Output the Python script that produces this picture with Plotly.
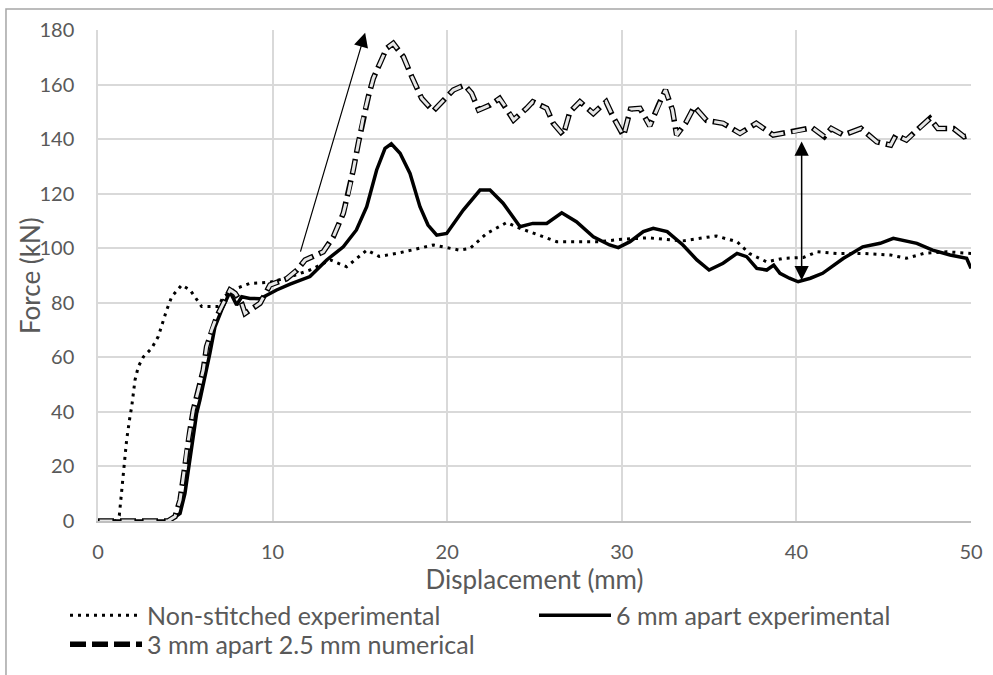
import plotly.graph_objects as go

# ---- data ----
ns_x = [0, 1.0, 1.22, 1.45, 1.64, 1.83, 1.93, 2.12, 2.31, 2.6, 3.07, 3.45, 3.65, 3.93, 4.22, 4.79, 5.27, 5.94,
        6.89, 7.18, 7.94, 8.7, 9.85, 11.0, 12.14, 13.3, 14.24, 15.4, 16.1, 17.1, 18.1, 19.2, 20.7, 21.3, 22.26,
        23.4, 24.17, 25.3, 26.27, 27.6, 28.75, 30.0, 31.5, 33.5, 35.4, 36.6, 37.3, 38.3, 39.25, 40.4, 41.2,
        42.3, 43.8, 45.4, 46.3, 47.3, 48.6, 50.0]
ns_y = [0, 0, 2, 17.5, 29.7, 38.2, 41.9, 51.7, 56.6, 60.2, 63.3, 67.6, 71.8, 77.3, 82.2, 86.5, 84.7, 78.6,
        78.6, 82.2, 85.3, 87.1, 87.5, 89.5, 92, 95.7, 93.2, 99.3, 97, 98.1, 99.5, 101.2, 99.3, 99.9, 105.4,
        109.4, 107.3, 104.8, 102.4, 102.4, 102.4, 103.3, 103.8, 102.7, 104.5, 102.4, 98.1, 95, 96.3, 96.6, 98.7,
        98.1, 98.1, 97.5, 96.3, 98.1, 98.7, 98.1]

s6_x = [0, 4.0, 4.31, 4.7, 4.98, 5.27, 5.46, 5.65, 5.84, 6.13, 6.41, 6.7, 7.08, 7.56, 7.94, 8.23, 8.7, 9.28,
        10.23, 11.0, 12.14, 13.1, 14.05, 14.8, 15.39, 15.96, 16.44, 16.8, 17.3, 17.87, 18.44, 18.9, 19.4, 19.97,
        20.92, 21.88, 22.45, 23.2, 24.17, 24.9, 25.7, 26.56, 27.4, 28.37, 29.3, 29.8, 30.47, 31.23, 31.8, 32.6,
        33.5, 34.3, 35.0, 35.8, 36.6, 37.15, 37.73, 38.3, 38.7, 39.06, 39.6, 40.1, 40.8, 41.5, 42.7, 43.8, 44.8,
        45.55, 46.9, 47.8, 48.8, 49.75, 50.0]
s6_y = [0, 0, 1, 2.8, 10.1, 22.4, 32.1, 39.5, 44.4, 52.9, 61.5, 71.2, 77.3, 84, 79.2, 82.2, 81.6, 81.5,
        84.7, 86.8, 89.6, 95.7, 100.5, 106.7, 115.2, 128.7, 136.6, 138.3, 134.8, 127.4, 115.2, 108.5, 104.8, 105.4,
        114, 121.3, 121.3, 116.5, 107.9, 109.1, 109.1, 113, 109.7, 104.2, 101.2, 100.2, 102.4, 106.1, 107.3, 106.1,
        101.2, 95.7, 92, 94.5, 98.1, 96.9, 92.6, 92, 93.8, 90.8, 89, 87.7, 89, 90.8, 96.3, 100.5, 101.8,
        103.6, 101.8, 99.3, 97.5, 96.3, 92.6]

n3_x = [0, 4.0, 4.41, 4.7, 4.89, 5.08, 5.27, 5.46, 5.75, 6.03, 6.22, 6.51, 6.8, 7.18, 7.56, 7.85, 8.23, 8.42,
        8.7, 9.28, 9.85, 10.8, 11.4, 11.86, 12.9, 13.48, 14.05, 14.34, 14.62, 14.91, 15.2, 15.48, 15.77, 16.15,
        16.53, 16.91, 17.49, 17.97, 18.54, 19.2, 19.78, 20.35, 21.0, 21.4, 21.8, 22.45, 23.0, 23.4, 23.8, 24.55,
        24.9, 25.7, 26.07, 26.65, 27.03, 27.6, 28.37, 29.1, 29.5, 30.1, 30.5, 31.04, 31.6, 32.1, 32.5, 32.9,
        33.14, 33.65, 34.15, 34.86, 35.8, 36.77, 37.7, 38.67, 39.8, 40.9, 41.6, 42.0, 42.7, 43.7, 44.6, 45.4,
        45.7, 46.3, 47.0, 47.65, 48.1, 49.0, 49.6, 50.0]
n3_y = [0, 0, 1.6, 7.7, 16.2, 26, 33.4, 40.7, 48, 55.4, 63.9, 70, 74.9, 79.8, 84.7, 83.5, 79.8, 76.1,
        77.3, 79.8, 86.5, 88.8, 92, 95.7, 98.7, 104.2, 112.8, 120.1, 128.7, 138.5, 148.2, 155.5, 162.3, 167.8,
        173.3, 175.1, 170.2, 162.9, 154.9, 150.3, 154.3, 158, 159.8, 156.8, 150.7, 152.5, 154.9, 151.3, 147, 151.3,
        153.7, 151.3, 145.8, 141.5, 150, 153.7, 149.4, 153.7, 148.2, 141.2, 151, 151.3, 144.8, 152.5, 158, 150.7,
        141.5, 145.8, 151.9, 146.8, 145.8, 142.1, 145.8, 141.5, 142.7, 144.2, 140.9, 143.9, 141.5, 143.9, 139, 137.8,
        141.5, 139.7, 143.9, 147.6, 143.9, 143.9, 140.9, 141.5]

x_ticks = [0, 10, 20, 30, 40, 50]
y_ticks = [0, 20, 40, 60, 80, 100, 120, 140, 160, 180]

names = ["Non-stitched experimental", "6 mm apart experimental", "3 mm apart 2.5 mm numerical"]

TXT = "#595959"
GRID = "#d9d9d9"
FONT = "Lato, 'Open Sans', sans-serif"

fig = go.Figure()
fig.add_trace(go.Scatter(x=ns_x, y=ns_y, mode="lines", name=names[0], legend="legend",
                         line=dict(color="black", width=3, dash="3px,5px")))
fig.add_trace(go.Scatter(x=s6_x, y=s6_y, mode="lines", name=names[1], legend="legend",
                         line=dict(color="black", width=3.5)))
fig.add_trace(go.Scatter(x=n3_x, y=n3_y, mode="lines", name=names[2], legend="legend2", legendgroup="n3",
                         line=dict(color="black", width=5.5, dash="16px,6px")))
fig.add_trace(go.Scatter(x=n3_x, y=n3_y, mode="lines", name=names[2], legend="legend2", legendgroup="n3",
                         showlegend=False,
                         line=dict(color="#e6e6e6", width=3, dash="0px,1.6px,12.8px,7.6px")))

# arrows
fig.add_annotation(x=15.3, y=179, ax=11.57, ay=98.2, xref="x", yref="y", axref="x", ayref="y",
                   text="", showarrow=True, arrowhead=2, arrowsize=2.4, arrowwidth=1.2, arrowcolor="black")
fig.add_annotation(x=40.3, y=88.3, ax=40.3, ay=139.7, xref="x", yref="y", axref="x", ayref="y",
                   text="", showarrow=True, arrowhead=2, startarrowhead=2, arrowside="end+start",
                   arrowsize=1.9, startarrowsize=1.9, arrowwidth=1.5, arrowcolor="black")

# y-axis title placed as rotated text
fig.add_annotation(text="Force (kN)", xref="paper", yref="paper", x=-0.0779, y=0.501,
                   xanchor="center", yanchor="middle", textangle=-90, showarrow=False,
                   font=dict(family=FONT, size=26, color=TXT))

# chart border
fig.add_shape(type="rect", xref="paper", yref="paper", x0=-0.1054, x1=1.2, y0=-0.5, y1=1.0428,
              line=dict(color="#a6a6a6", width=1.5), layer="above")

legend_common = dict(orientation="h", x=-0.0378, xanchor="left", yanchor="top",
                     entrywidth=382, entrywidthmode="pixels", itemwidth=72,
                     font=dict(family=FONT, size=25, color=TXT), bgcolor="rgba(0,0,0,0)",
                     tracegroupgap=0)

fig.update_layout(
    width=993, height=675,
    margin=dict(l=98, r=22, t=30, b=154, autoexpand=False),
    paper_bgcolor="white", plot_bgcolor="white",
    font=dict(family=FONT, size=20, color=TXT),
    showlegend=True,
    legend=dict(y=-0.1456, **legend_common),
    legend2=dict(y=-0.2047, **legend_common),
    xaxis=dict(range=[0, 50], tickvals=x_ticks, showgrid=True, gridcolor=GRID, gridwidth=1.5,
               showline=True, linecolor="#bfbfbf", linewidth=1.5, zeroline=False, ticks="",
               ticklabelstandoff=12, automargin=False,
               title=dict(text="Displacement (mm)", standoff=4, font=dict(size=26, color=TXT)),
               fixedrange=True),
    yaxis=dict(range=[0, 180], tickvals=y_ticks, showgrid=True, gridcolor=GRID, gridwidth=1.5,
               showline=True, linecolor=GRID, linewidth=1.5, zeroline=False, ticks="",
               ticklabelstandoff=18, automargin=False, fixedrange=True),
)

fig.write_html("out.html", config={"displayModeBar": False},
               post_script="document.body.style.margin='0';document.body.style.overflow='hidden';")
